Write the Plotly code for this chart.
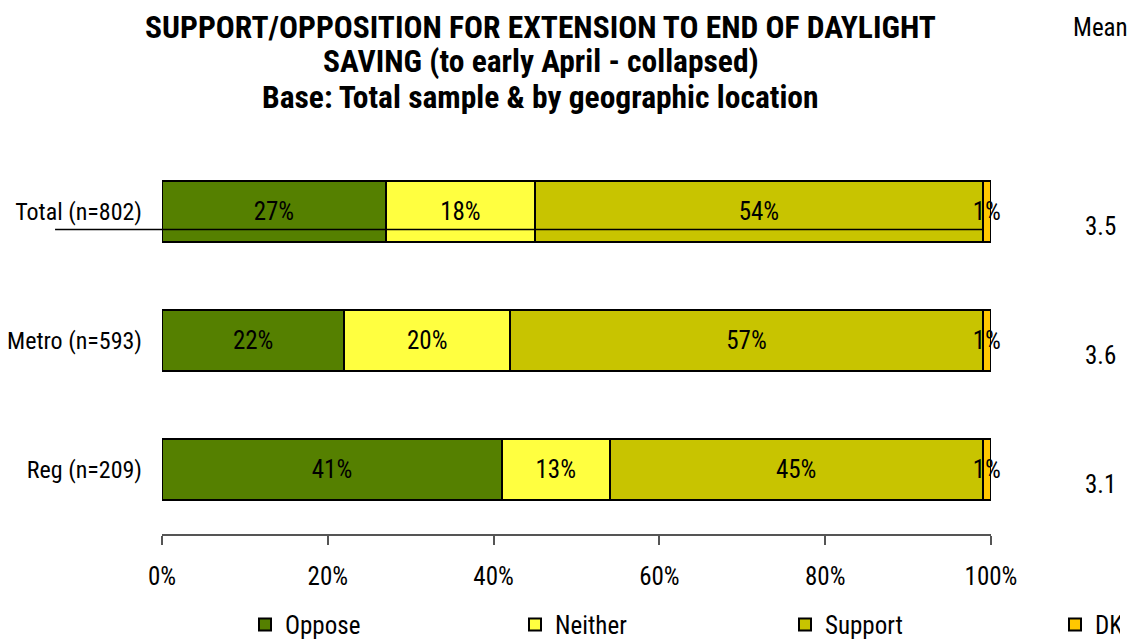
import plotly.graph_objects as go

categories = ["Total (n=802)", "Metro (n=593)", "Reg (n=209)"]
series_names = ["Oppose", "Neither", "Support", "DK"]
oppose = [27, 22, 41]
neither = [18, 20, 13]
support = [54, 57, 45]
dk = [1, 1, 1]
means = ["3.5", "3.6", "3.1"]
x_ticks = [0, 20, 40, 60, 80, 100]
x_tick_labels = ["0%", "20%", "40%", "60%", "80%", "100%"]
title_lines = [
    "SUPPORT/OPPOSITION FOR EXTENSION TO END OF DAYLIGHT",
    "SAVING (to early April - collapsed)",
    "Base: Total sample &amp; by geographic location",
]

colors = ["#558000", "#FFFF40", "#C8C400", "#FFC800"]
legend_widths = [225, 225, 225, 20]
FONT = "Roboto Condensed, Liberation Sans Narrow, Arial Narrow, sans-serif"
FS = 25

fig = go.Figure()
for name, vals, col, lw in zip(series_names, [oppose, neither, support, dk], colors, legend_widths):
    fig.add_trace(go.Bar(
        name=name, y=categories, x=vals, orientation="h",
        marker=dict(color=col, line=dict(color="black", width=2)),
        text=[f"{v}%" for v in vals], textposition="inside", textangle=0,
        insidetextanchor="middle", constraintext="none", cliponaxis=False,
        textfont=dict(color="black", size=FS, family=FONT),
        width=0.48, legendwidth=lw,
    ))

for cat, m in zip(categories, means):
    fig.add_annotation(x=1.1315, xref="paper", y=cat, yref="y", yshift=-15,
                       text=m, showarrow=False, xanchor="center",
                       font=dict(size=FS, family=FONT, color="black"))

fig.add_annotation(x=1.1315, xref="paper", y=1.310, yref="paper",
                   text="Mean", showarrow=False, xanchor="center", yanchor="middle",
                   font=dict(size=FS, family=FONT, color="black"))

for line, yy in zip(title_lines, [1.310, 1.220, 1.129]):
    fig.add_annotation(x=0.457, xref="paper", y=yy, yref="paper",
                       text=f"<b>{line}</b>", showarrow=False,
                       xanchor="center", yanchor="middle",
                       font=dict(size=31.5, family=FONT, color="black"))

# stray horizontal line across Total row (present in reference)
fig.add_shape(type="line", xref="paper", yref="y",
              x0=-0.129, x1=0.99, y0=1.86, y1=1.86,
              line=dict(color="black", width=1.5))

fig.update_layout(
    barmode="stack",
    width=1142, height=644,
    paper_bgcolor="white", plot_bgcolor="white",
    margin=dict(l=162, r=151, t=147, b=110, autoexpand=False),
    font=dict(family=FONT, size=FS, color="black"),
    showlegend=True,
    legend=dict(orientation="h", x=1.1556, xanchor="right",
                y=-0.175, yanchor="top",
                entrywidth=225, entrywidthmode="pixels", traceorder="normal",
                font=dict(size=FS, family=FONT), itemwidth=30),
    xaxis=dict(range=[0, 100], tickvals=x_ticks, ticktext=x_tick_labels,
               showgrid=False, zeroline=False, showline=True,
               linecolor="#555555", linewidth=1.5, ticks="outside",
               tickcolor="#555555", ticklen=9, tickwidth=1.5,
               ticklabelstandoff=10, automargin=False),
    yaxis=dict(categoryorder="array", categoryarray=categories[::-1],
               range=[-0.5, 2.5], showgrid=False, zeroline=False,
               showline=False, ticks="", ticklabelstandoff=19,
               tickfont=dict(size=24, family=FONT), automargin=False),
)

fig.write_html("out.html", config={"displayModeBar": False},
               post_script="document.body.style.margin='0';")
